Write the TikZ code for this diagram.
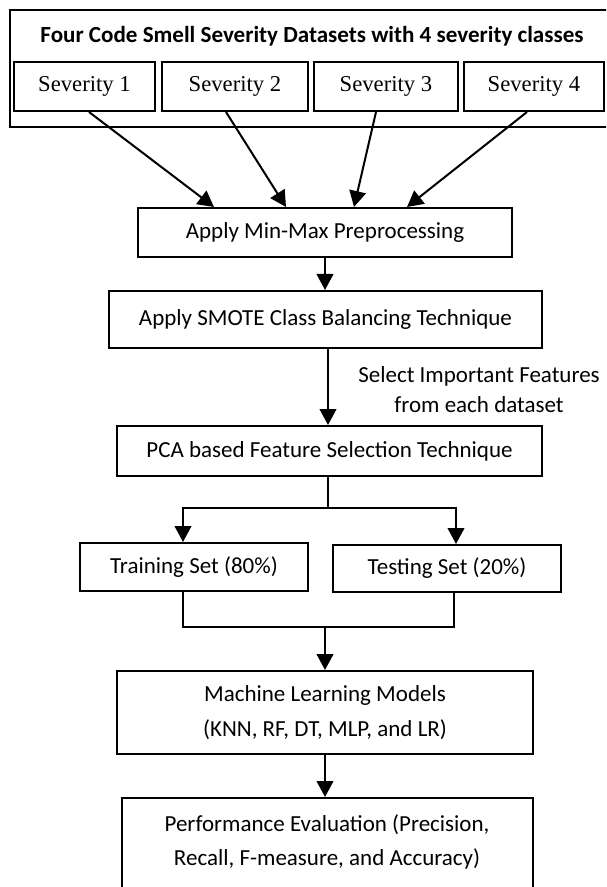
\documentclass[tikz,border=0pt]{standalone}
\usepackage{fontspec}
\setmainfont{Carlito}
\newfontfamily\timesf{Liberation Serif}
\usetikzlibrary{arrows.meta,calc}
\def\px{*0.75pt}
\begin{document}
\begin{tikzpicture}[x=0.75pt,y=-0.75pt,
  box/.style={draw,line width=1.5pt,rectangle,inner sep=0pt,align=center,
    font=\fontsize{17.25}{26}\selectfont},
  sevbox/.style={box,font=\timesf\fontsize{17}{20}\selectfont},
  conn/.style={line width=1.5pt},
  arr/.style={conn,-{Triangle[length=12pt,width=12.5pt]}},
  txt/.style={inner sep=0pt,align=center,font=\fontsize{17.25}{26}\selectfont},
]
\useasboundingbox (0,0) rectangle (606,887);
\clip (0,0) rectangle (606,887);

% outer frame (right edge cut off)
\node[draw,line width=1.5pt,inner sep=0pt,minimum width=620\px,minimum height=117\px,anchor=north west] (outer) at (9,9) {};
\node[txt,font=\bfseries\fontsize{17.3}{20}\selectfont] (title) at (312,36)
  {Four Code Smell Severity Datasets with 4 severity classes};

\node[sevbox,minimum width=141\px,minimum height=49\px] (s1) at (84.5,86.5) {Severity 1};
\node[sevbox,minimum width=146\px,minimum height=49\px] (s2) at (235,86.5) {Severity 2};
\node[sevbox,minimum width=144\px,minimum height=49\px] (s3) at (386,86.5) {Severity 3};
\node[sevbox,minimum width=140\px,minimum height=49\px] (s4) at (534,86.5) {Severity 4};

\node[box,minimum width=374\px,minimum height=49\px] (minmax) at (325,232.5) {Apply Min-Max Preprocessing};
\node[box,minimum width=433\px,minimum height=57\px] (smote) at (325.5,319.5) {Apply SMOTE Class Balancing Technique};
\node[txt,font=\fontsize{17.25}{22.5}\selectfont] (sel) at (479,390) {Select Important Features\\from each dataset};
\node[box,minimum width=425\px,minimum height=50\px] (pca) at (329.5,451) {PCA based Feature Selection Technique};
\node[box,minimum width=228\px,minimum height=48\px] (train) at (194,567) {Training Set (80\%)};
\node[box,minimum width=228\px,minimum height=47\px] (test) at (447,568.5) {Testing Set (20\%)};
\node[box,minimum width=416\px,minimum height=83\px] (ml) at (325,712.5) {Machine Learning Models\\(KNN, RF, DT, MLP, and LR)};
\node[box,minimum width=411\px,minimum height=110\px,anchor=north] (perf) at (327.5,797) {};
\node[txt,font=\fontsize{17.25}{25}\selectfont] (perftext) at (327,842) {Performance Evaluation (Precision,\\Recall, F-measure, and Accuracy)};

% arrows from severity boxes
\draw[arr] ($(s1.south)+(4.5,0)$) -- ($(minmax.north west)+(77,0)$);
\draw[arr] ($(s2.south)+(-9,0)$) -- ($(minmax.north west)+(149,0)$);
\draw[arr] ($(s3.south)+(-10,0)$) -- ($(minmax.north west)+(217,0)$);
\draw[arr] ($(s4.south)+(-7,0)$) -- ($(minmax.north west)+(270,0)$);

\draw[arr] (minmax.south) -- (minmax.south |- smote.north);
\draw[arr] ($(smote.south)+(2.5,0)$) coordinate (sp) -- (sp |- pca.north);

\coordinate (split) at (328,508);
\draw[conn] (split |- pca.south) -- (split);
\draw[arr] (split) -| ($(train.north)+(-11,0)$);
\draw[arr] (split) -| ($(test.north)+(9,0)$);

\coordinate (merge) at (325,627);
\coordinate (tl) at ($(train.south)+(-11,0)$);
\coordinate (tr) at ($(test.south)+(7,0)$);
\draw[conn] (tl) -- (tl |- merge) -- (tr |- merge) -- (tr);
\draw[arr] (merge) -- (merge |- ml.north);

\draw[arr] (ml.south) -- (ml.south |- perf.north);
\end{tikzpicture}
\end{document}
